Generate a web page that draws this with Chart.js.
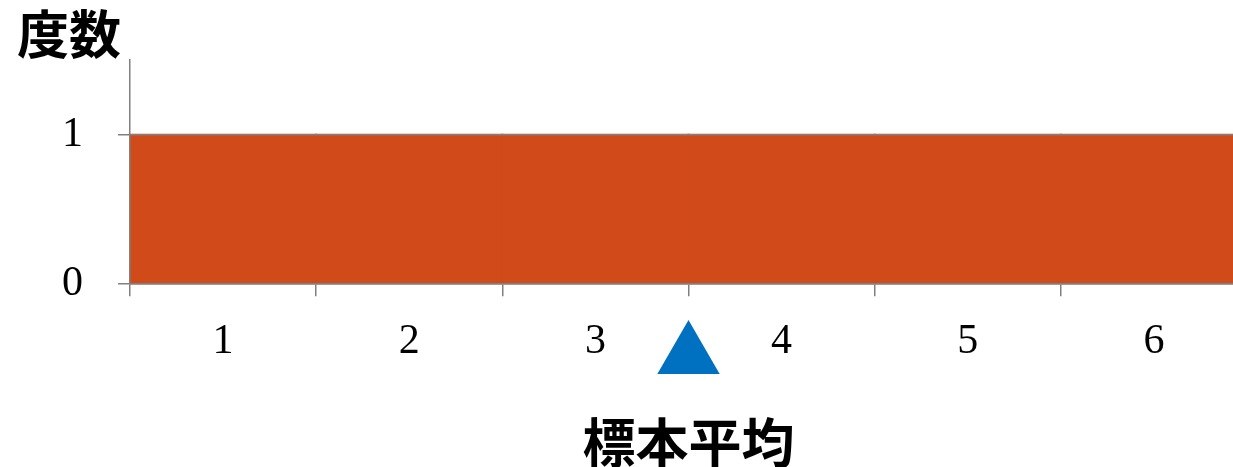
<!DOCTYPE html>
<html>
<head>
<meta charset="utf-8">
<script src="https://cdn.jsdelivr.net/npm/chart.js@4"></script>
<style>
  html, body { margin: 0; padding: 0; background: #fff; overflow: hidden; }
</style>
</head>
<body>
<!-- wider than the window: the plot runs past the right edge, as in the original -->
<canvas id="freqChart" width="1283" height="467"></canvas>
<script>
// data
const categories = ['1', '2', '3', '4', '5', '6'];
const frequencies = [1, 1, 1, 1, 1, 1];
const yTicks = [0, 1];
const sampleMean = 3.5;
const markerLevel = -0.48; // where the mean marker sits, in y units (below the axis)

const barColor = '#D14A19';
const axisColor = '#808080';
const markerColor = '#0070C0';

const serif = "'Liberation Serif', 'Times New Roman', serif";
const cjk = "'Noto Sans CJK JP', 'Noto Sans CJK SC', sans-serif";

// points are culled outside the chart area, the mean marker sits under the axis
const markerPlugin = {
    id: 'markerBelowAxis',
    afterDatasetsDraw(chart) {
        const meta = chart.getDatasetMeta(1);
        meta.data.forEach(point => point.draw(chart.ctx));
    }
};

var ctx = document.getElementById('freqChart');
const freqChart = new Chart(ctx, {
    type: 'bar',
    data: {
        labels: categories,
        datasets: [{
                label: '度数',
                data: frequencies,
                backgroundColor: barColor,
                borderWidth: 0,
                inflateAmount: 1,
                grouped: false,
                barPercentage: 1,
                categoryPercentage: 1
            }, {
                type: 'scatter',
                label: '標本平均',
                data: [{x: sampleMean, y: markerLevel}],
                xAxisID: 'x2',
                pointStyle: 'triangle',
                pointRadius: 36,
                backgroundColor: markerColor,
                borderWidth: 0,
                clip: false
            }]
    },
    plugins: [markerPlugin],
    options: {
        responsive: false,
        animation: false,
        events: [],
        layout: {
            padding: {left: 17, right: 13, top: 0, bottom: 0}
        },
        plugins: {
            legend: {display: false},
            tooltip: {enabled: false},
            title: {
                display: true,
                text: '度数',
                align: 'start',
                color: '#000',
                font: {family: cjk, size: 52, weight: 'bold', lineHeight: 1},
                padding: {top: 8, bottom: 0}
            }
        },
        scales: {
            x: {
                type: 'category',
                offset: true,
                grid: {
                    offset: true,
                    drawOnChartArea: false,
                    tickLength: 12,
                    color: axisColor,
                    lineWidth: 1.5,
                    z: 1
                },
                border: {color: axisColor, width: 1.5, z: 1},
                ticks: {
                    color: '#000',
                    font: {family: serif, size: 42},
                    padding: 21,
                    maxRotation: 0,
                    autoSkip: false
                },
                title: {
                    display: true,
                    text: '標本平均',
                    color: '#000',
                    font: {family: cjk, size: 53, weight: 'bold', lineHeight: 0.8},
                    padding: {top: 33, bottom: 3}
                }
            },
            x2: {
                type: 'linear',
                display: false,
                min: 0.5,
                max: 6.5
            },
            y: {
                min: 0,
                max: 1.5,
                afterBuildTicks: function (scale) {
                    scale.ticks = yTicks.map(v => ({value: v}));
                },
                afterFit: function (scale) {
                    scale.width = 113;
                },
                grid: {
                    tickLength: 12,
                    color: axisColor,
                    lineWidth: 1.5,
                    z: 1
                },
                border: {color: axisColor, width: 1.5, z: 1},
                ticks: {
                    color: '#000',
                    font: {family: serif, size: 42},
                    padding: 35
                }
            }
        }
    }
});
</script>
</body>
</html>
